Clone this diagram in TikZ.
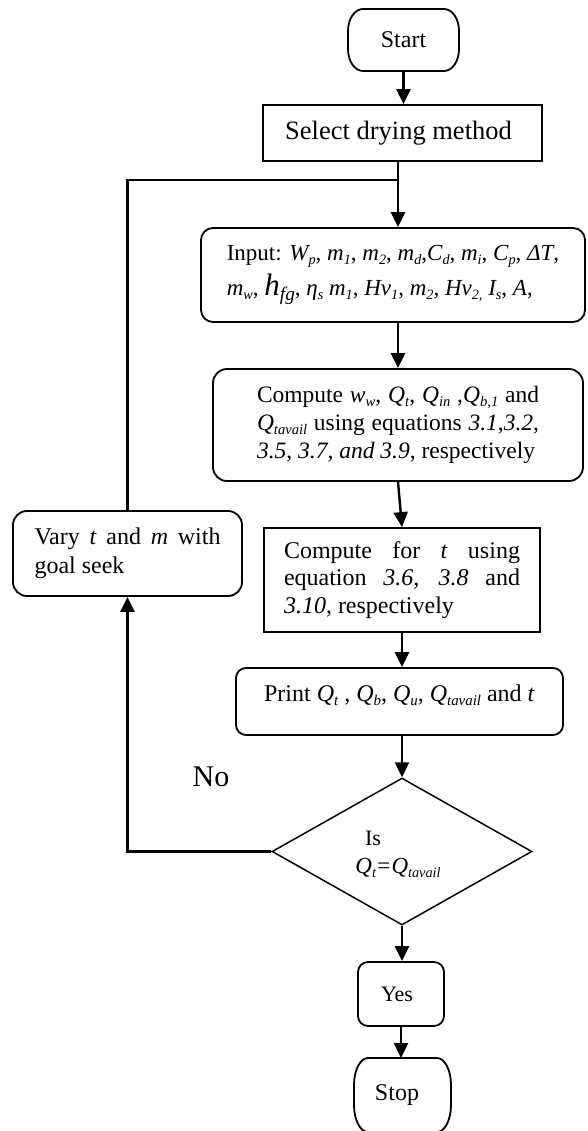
\documentclass[tikz,border=0pt]{standalone}
\usepackage{fontspec}
\setmainfont{Liberation Serif}
\usepackage{graphicx}
\usetikzlibrary{arrows.meta,shapes.geometric,calc}

% lowered, smaller text for indices
\newcommand\lo[1]{\raisebox{-0.35ex}{\scalebox{0.62}{#1}}}
% italic variable with index
\newcommand\iv[2]{\textit{#1\lo{#2}}}
% terminal outline with elliptic ends around a node
\newcommand\termpath[3]{%
  \draw[line width=1.8pt] ([xshift=#2]#1.north west) -- ([xshift=-#2]#1.north east)
    arc[start angle=90,end angle=0,x radius=#2,y radius=#3]
    -- ([yshift=#3]#1.south east)
    arc[start angle=0,end angle=-90,x radius=#2,y radius=#3]
    -- ([xshift=#2]#1.south west)
    arc[start angle=270,end angle=180,x radius=#2,y radius=#3]
    -- ([yshift=-#3]#1.north west)
    arc[start angle=180,end angle=90,x radius=#2,y radius=#3] -- cycle;}

\tikzset{
  box/.style={draw, line width=1.8pt, inner sep=0pt},
  rbox/.style={box, rounded corners=12pt},
  term/.style={inner sep=0pt, outer sep=0pt},
  flow/.style={line width=2.4pt, -{Triangle[length=15pt,width=14pt]}},
  link/.style={line width=2.4pt},
}

\begin{document}
\begin{tikzpicture}[x=1pt,y=1pt]
\path[use as bounding box, fill=white] (0,0) rectangle (587,-1131);

% start
\node[term, font=\fontsize{24}{28}\selectfont, minimum width=111pt, minimum height=62pt] (st) at (403.5,-40) {Start};
\termpath{st}{15pt}{22pt}

% method selection
\node[box, font=\fontsize{26.5}{30}\selectfont, minimum width=279pt, minimum height=56pt] (sel) at (402.5,-133) {Select drying method\hspace*{8pt}};

\coordinate (jn) at (398,-180);

% inputs
\node[rbox, font=\fontsize{23}{35}\selectfont, minimum width=384pt, minimum height=94pt, align=left] (inp) at (393,-275)
  {Input: \iv{W}{p}, \iv{m}{1}, \iv{m}{2}, \iv{m}{d},\iv{C}{d}, \iv{m}{i}, \iv{C}{p}, \textit{ΔT},\\
   \iv{m}{w}, {\fontsize{31}{31}\selectfont\iv{h}{fg}}, \iv{η}{s} \iv{m}{1}, \iv{Hv}{1}, \iv{m}{2}, \iv{Hv}{2,} \iv{I}{s}, \textit{A},};

% first computation
\node[rbox, rounded corners=14pt, font=\fontsize{23.5}{28}\selectfont, minimum width=370pt, minimum height=112pt, text width=282pt, align=justify] (cmp) at (398,-425)
  {\parfillskip=0pt Compute \iv{w}{w}, \iv{Q}{t}, \iv{Q}{in} ,\iv{Q}{b,1} and\linebreak
   \iv{Q}{tavail} using equations \textit{3.1},\textit{3.2,}\linebreak
   \textit{3.5}, \textit{3.7, and 3.9}, respectively};

% time computation
\node[box, font=\fontsize{24}{27.5}\selectfont, minimum width=276pt, minimum height=104pt, text width=236pt, align=justify] (cf) at (402,-580)
  {Compute for \textit{t} using\linebreak equation \textit{3.6}, \textit{3.8} and\linebreak \textit{3.10}, respectively};

% goal seek
\node[rbox, rounded corners=14pt, font=\fontsize{24}{29}\selectfont, minimum width=229pt, minimum height=85pt, text width=186pt, align=justify] (vary) at (127.5,-553.5)
  {Vary \textit{t} and \textit{m} with\linebreak goal seek};

% output
\node[rbox, rounded corners=10pt, font=\fontsize{24}{28}\selectfont, minimum width=327pt, minimum height=67pt] (prt) at (399.5,-701.5)
  {\raisebox{0pt}[18pt][18pt]{Print \iv{Q}{t} , \iv{Q}{b}, \iv{Q}{u}, \iv{Q}{tavail} and \textit{t}}};

% decision
\node[draw, diamond, line width=1.5pt, minimum width=260pt, minimum height=147pt, inner sep=0pt] (dia) at (402,-851.5) {};
\node[font=\fontsize{22}{22}\selectfont] (dis) at (373,-838) {Is};
\node[font=\fontsize{23}{23}\selectfont] (dq) at (398,-868) {\iv{Q}{t}\textit{=}\iv{Q}{tavail}};
\node[font=\fontsize{30}{30}\selectfont] (no) at (211,-777) {No};

\node[rbox, rounded corners=10pt, font=\fontsize{22}{22}\selectfont, minimum width=86pt, minimum height=64pt] (yes) at (401,-994) {Yes\hspace*{8pt}};

% stop
\node[term, font=\fontsize{24}{28}\selectfont, minimum width=97pt, minimum height=74pt] (sp) at (402.5,-1095) {Stop\hspace*{11pt}};
\termpath{sp}{14pt}{27pt}

% connectors
\draw[flow] (st.south) -- (st.south |- sel.north);
\draw[flow] (sel.south -| jn) -- (inp.north -| jn);
\draw[flow] (inp.south -| jn) -- (cmp.north -| jn);
\draw[flow] (cmp.south) -- (cf.north);
\draw[flow] (cf.south) -- (cf.south |- prt.north);
\draw[flow] (prt.south -| dia.north) -- (dia.north);
\draw[flow] (dia.south) -- (yes.north -| dia.south);
\draw[flow] (yes.south) -- (yes.south |- sp.north);
\draw[flow] (dia.west) -| (vary.south);
\draw[link] (vary.north) |- (jn);
\end{tikzpicture}
\end{document}
